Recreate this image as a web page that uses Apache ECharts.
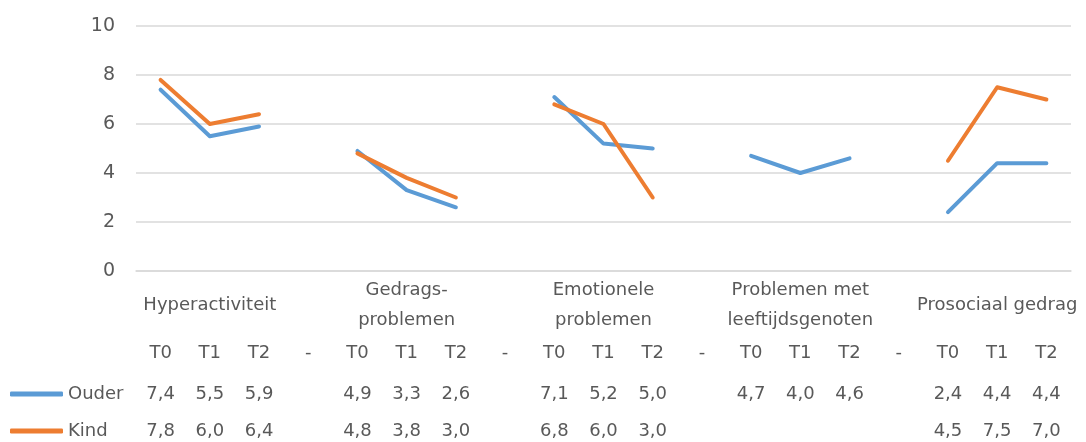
<!DOCTYPE html>
<html>
<head>
<meta charset="utf-8">
<script src="https://cdn.jsdelivr.net/npm/echarts@6/dist/echarts.min.js"></script>
<style>
  html, body { margin: 0; padding: 0; background: #fff; }
  #chart { width: 1086px; height: 442px; }
</style>
</head>
<body>
<div id="chart"></div>
<script>
// Time points per domain, with "-" as a spacer column between domains
const categories = ['T0','T1','T2','-','T0','T1','T2','-','T0','T1','T2','-','T0','T1','T2','-','T0','T1','T2'];
const groups = ['Hyperactiviteit', 'Gedrags-\nproblemen', 'Emotionele\nproblemen', 'Problemen met\nleeftijdsgenoten', 'Prosociaal gedrag'];
const seriesNames = ['Ouder', 'Kind'];
const ouder = [7.4, 5.5, 5.9, null, 4.9, 3.3, 2.6, null, 7.1, 5.2, 5.0, null, 4.7, 4.0, 4.6, null, 2.4, 4.4, 4.4];
const kind  = [7.8, 6.0, 6.4, null, 4.8, 3.8, 3.0, null, 6.8, 6.0, 3.0, null, null, null, null, null, 4.5, 7.5, 7.0];
const yTicks = { min: 0, max: 10, interval: 2 };

const FONT = 'DejaVu Sans';
const TEXT = '#595959';
const FS = 18;
const fmt = v => (v === null || v === undefined) ? '' : v.toFixed(1).replace('.', ',');

// One hidden-line category axis per text row below the plot
function rowAxis(margin, formatter, lineHeight) {
  return {
    type: 'category',
    data: categories,
    gridIndex: 0,
    position: 'bottom',
    axisLine: { show: false },
    axisTick: { show: false },
    splitLine: { show: false },
    axisLabel: {
      interval: 0,
      margin: margin,
      verticalAlign: 'middle',
      color: TEXT,
      fontFamily: FONT,
      fontSize: FS,
      lineHeight: lineHeight || FS + 4,
      hideOverlap: false,
      formatter: formatter
    }
  };
}

// Legend key for one series, laid out as a row of the data table
function legendRow(name, top) {
  return {
    data: [name],
    left: 10,
    top: top,
    padding: 0,
    icon: 'roundRect',
    itemWidth: 53,
    itemHeight: 5,
    textStyle: { color: TEXT, fontFamily: FONT, fontSize: FS }
  };
}

const chart = echarts.init(document.getElementById('chart'), null, { renderer: 'canvas' });
chart.setOption({
  animation: false,
  backgroundColor: '#ffffff',
  color: ['#5B9BD5', '#ED7D31'],
  grid: { left: 136, right: 15, top: 26, bottom: 171, containLabel: false },
  legend: [legendRow(seriesNames[0], 385), legendRow(seriesNames[1], 422)],
  xAxis: [
    {
      type: 'category',
      data: categories,
      boundaryGap: true,
      axisLine: { show: true, lineStyle: { color: '#D9D9D9', width: 1.5 } },
      axisTick: { show: false },
      axisLabel: {
        interval: 0, margin: 82, verticalAlign: 'middle',
        color: TEXT, fontFamily: FONT, fontSize: FS
      }
    },
    rowAxis(34, (v, i) => (i % 4 === 1) ? groups[(i - 1) / 4] : '', 30),
    rowAxis(123, (v, i) => fmt(ouder[i])),
    rowAxis(160, (v, i) => fmt(kind[i]))
  ],
  yAxis: {
    type: 'value',
    min: yTicks.min,
    max: yTicks.max,
    interval: yTicks.interval,
    axisLine: { show: false },
    axisTick: { show: false },
    splitLine: { lineStyle: { color: '#D9D9D9', width: 1.5 } },
    axisLabel: { margin: 21, color: TEXT, fontFamily: FONT, fontSize: 19 }
  },
  series: [
    {
      name: seriesNames[0], type: 'line', data: ouder,
      symbol: 'none', connectNulls: false,
      lineStyle: { width: 4, cap: 'round', join: 'round' }
    },
    {
      name: seriesNames[1], type: 'line', data: kind,
      symbol: 'none', connectNulls: false,
      lineStyle: { width: 4, cap: 'round', join: 'round' }
    }
  ]
});
</script>
</body>
</html>
